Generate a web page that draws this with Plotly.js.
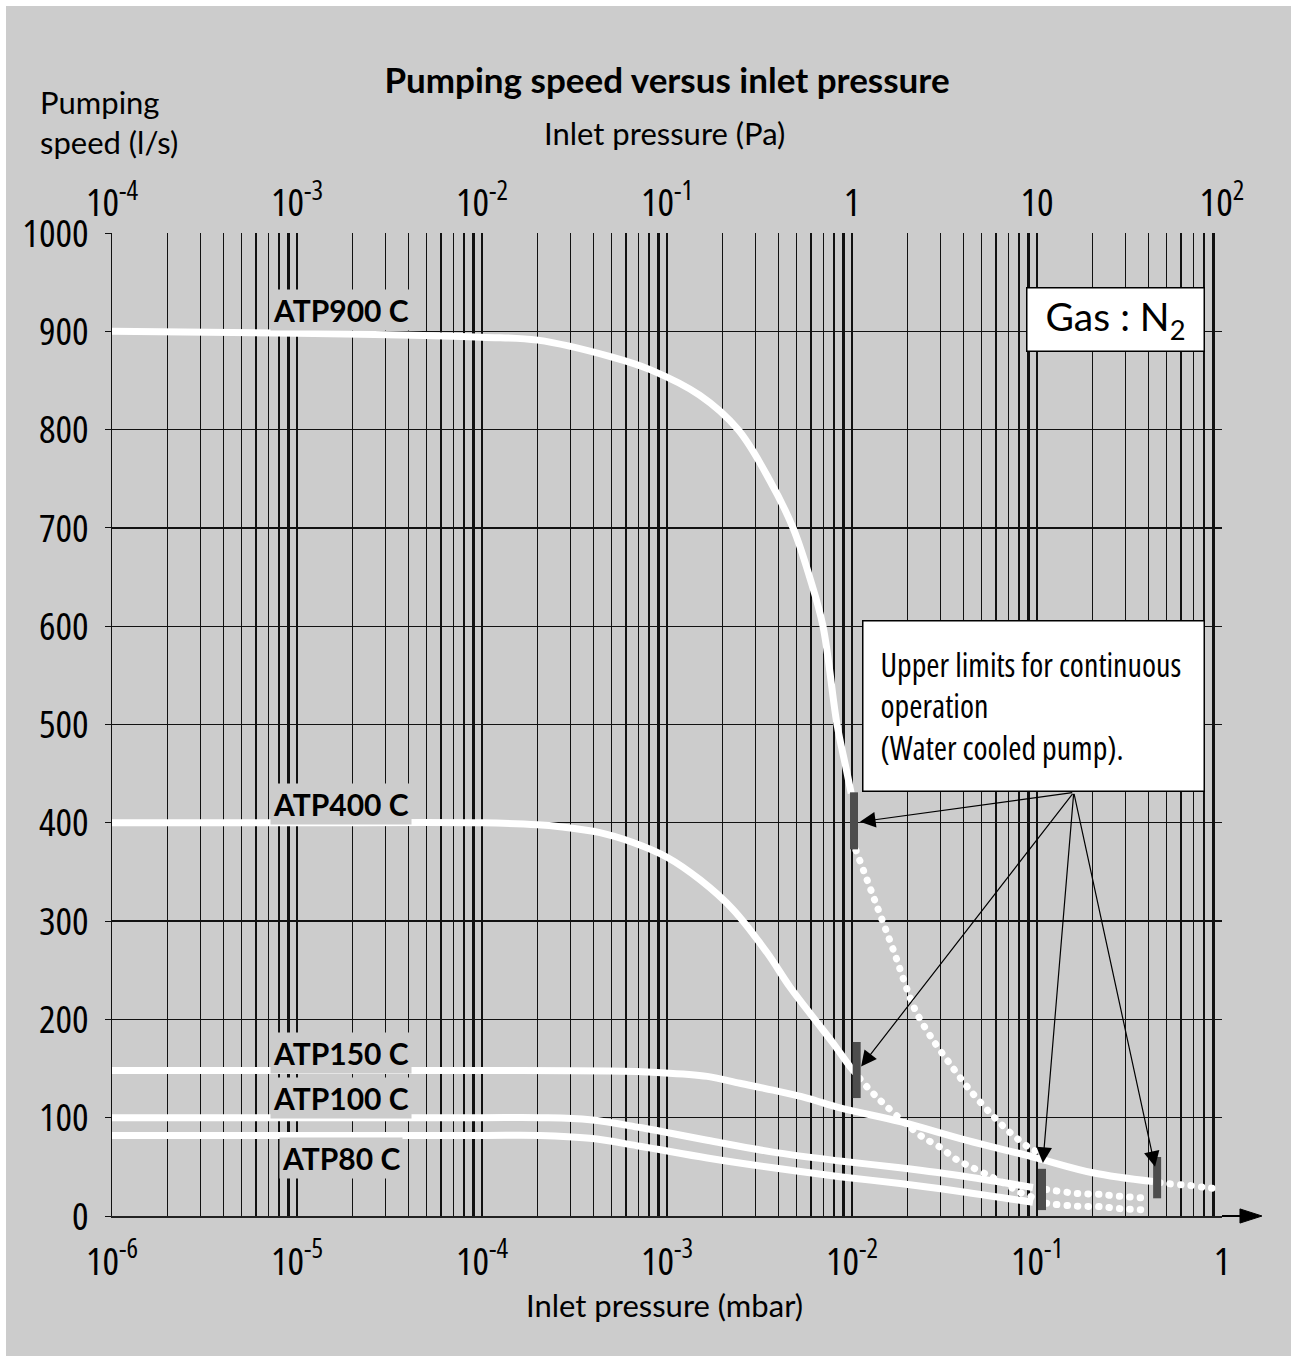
<!DOCTYPE html>
<html><head><meta charset="utf-8">
<script src="https://cdn.plot.ly/plotly-3.0.1.min.js"></script>
<style>html,body{margin:0;padding:0;background:#fff;}
#chart{position:absolute;left:6px;top:6px;width:1285px;height:1350px;}
.xtick text, .x2tick text, .ytick text { font-stretch: 75%; }
.annotation[data-index="9"] text { font-stretch: 75%; }
</style>
</head><body><div id="chart"></div>
<script>
// ---------- data (pressure in mbar, pumping speed in l/s) ----------
const atp900P = [1e-6, 1e-5, 1e-4, 2e-4, 5e-4, 8.1e-4, 1.5e-3, 2.42e-3, 3.6e-3, 4.8e-3, 5.9e-3, 6.97e-3, 8.3e-3, 9.3e-3, 9.9e-3];
const atp900S = [900, 898, 894, 891, 874, 861, 835, 800, 748, 700, 650, 600, 500, 455, 430];
const atp900DotP = [1.05e-2, 1.28e-2, 1.67e-2, 2.19e-2, 2.74e-2, 3.47e-2, 4.34e-2, 5.57e-2, 7.14e-2, 9.16e-2, 1.04e-1];
const atp900DotS = [372, 329, 271, 210, 179, 152, 128, 105, 85, 69, 64];

const atp400P = [1e-6, 1e-5, 1e-4, 2e-4, 2.64e-4, 4.34e-4, 6.55e-4, 1e-3, 1.51e-3, 2.27e-3, 3.47e-3, 4.62e-3, 6.47e-3, 7.89e-3, 9.75e-3, 1.04e-2];
const atp400S = [400, 400, 400, 398, 396, 390, 380, 365, 342, 312, 268, 233, 197, 176, 152, 146];
const atp400DotP = [1.1e-2, 1.21e-2, 1.36e-2, 1.57e-2, 1.77e-2, 1.98e-2, 2.42e-2, 2.99e-2, 3.70e-2, 4.51e-2, 5.37e-2, 6.55e-2, 8.09e-2, 9.51e-2, 1.04e-1];
const atp400DotS = [140, 131, 121, 110, 101, 93, 80, 70, 57, 49, 42, 34, 24, 19, 17];

const atp150P = [1e-6, 1e-5, 1e-4, 5e-4, 8.83e-4, 1.65e-3, 2.48e-3, 3.74e-3, 5.71e-3, 8.61e-3, 1.82e-2, 4.18e-2, 9.51e-2, 0.2, 0.424];
const atp150S = [148, 148, 148, 147.5, 146, 142, 135, 128, 120, 110, 96, 77, 60, 44, 35];
const atp150DotP = [0.46, 0.504, 0.672, 0.861, 1.0];
const atp150DotS = [34, 33, 31, 28.5, 27.5];

const smallP = [1e-6, 1e-5, 1e-4, 2.06e-4, 3.83e-4, 7.14e-4, 1.65e-3, 3.74e-3, 8.61e-3, 1.82e-2, 4.18e-2, 9.51e-2];
const atp100S = [100, 100, 100, 100, 98, 90, 77, 65, 56, 49, 40, 29];
const atp80S  = [82, 82, 82, 82, 79, 71, 59, 49, 40, 33, 24, 14];
const smallDotP = [0.112, 0.122, 0.164, 0.219, 0.281, 0.408];
const atp100DotS = [27, 26, 23, 22, 20, 18];
const atp80DotS  = [13, 12, 10, 9.5, 7.5, 6];

// upper limits for continuous operation (bars)
const limitP    = [0.01025, 0.0106, 0.1064, 0.446];
const limitLow  = [373, 120, 6, 18];
const limitHigh = [431, 177, 48, 60];

// callout arrows
const calloutTailP = 0.158;
const calloutTailS = 431;
const arrowTipP = [0.01104, 0.0112, 0.1076, 0.4345];
const arrowTipS = [401, 152, 54, 50];

// curve labels
const labelText = ['ATP900 C', 'ATP400 C', 'ATP150 C', 'ATP100 C', 'ATP80 C'];
const labelY = [922, 419, 166, 120, 59];
const labelP = 1.73e-5;

// axes
const mbarDecades = [-6, -5, -4, -3, -2, -1];
const mbarTickText = ['10<sup>-6</sup>', '10<sup>-5</sup>', '10<sup>-4</sup>', '10<sup>-3</sup>', '10<sup>-2</sup>', '10<sup>-1</sup>', '1'];
const paTickVals = [1e-4, 1e-3, 1e-2, 1e-1, 1, 10, 100];
const paTickText = ['10<sup>-4</sup>', '10<sup>-3</sup>', '10<sup>-2</sup>', '10<sup>-1</sup>', '1', '10', '10<sup>2</sup>'];
const speedTicks = [0, 100, 200, 300, 400, 500, 600, 700, 800, 900, 1000];

// ---------- build ----------
const REG = "Lato,'Noto Sans',sans-serif";
const COND = "'Open Sans',sans-serif";

const gridVals = [], gridText = [], thickVals = [];
mbarDecades.forEach((e, i) => {
  for (let m = 1; m <= 8; m++) {
    gridVals.push(m * Math.pow(10, e));
    gridText.push(m === 1 ? mbarTickText[i] : '');
  }
  thickVals.push(9 * Math.pow(10, e));
});
gridVals.push(1); gridText.push(mbarTickText[6]);

function solid(p, s) {
  return {x: p, y: s, type: 'scatter', mode: 'lines', hoverinfo: 'skip', showlegend: false,
    line: {color: '#ffffff', width: 7, shape: 'spline', smoothing: 1.0}};
}
function dotted(p, s) {
  return {x: p, y: s, type: 'scatter', mode: 'lines', hoverinfo: 'skip', showlegend: false,
    line: {color: '#ffffff', width: 7, dash: '0.5px,10px', shape: 'spline', smoothing: 0.8}};
}
const barX = [], barY = [];
limitP.forEach((p, i) => { barX.push(p, p, null); barY.push(limitLow[i], limitHigh[i], null); });

const traces = [
  solid(atp900P, atp900S), dotted(atp900DotP, atp900DotS),
  solid(atp400P, atp400S), dotted(atp400DotP, atp400DotS),
  solid(atp150P, atp150S), dotted(atp150DotP, atp150DotS),
  solid(smallP, atp100S), dotted(smallDotP, atp100DotS),
  solid(smallP, atp80S), dotted(smallDotP, atp80DotS),
  {x: barX, y: barY, type: 'scatter', mode: 'lines', hoverinfo: 'skip', showlegend: false,
    line: {color: '#4d4d4d', width: 8}},
  {x: [paTickVals[0], paTickVals[paTickVals.length - 1]], y: [null, null], xaxis: 'x2', type: 'scatter',
    mode: 'lines', showlegend: false, hoverinfo: 'skip'}
];

const annotations = [];
labelText.forEach((t, i) => annotations.push({
  text: '<b>' + t + '</b>', x: Math.log10(labelP), y: labelY[i], xref: 'x', yref: 'y',
  showarrow: false, bgcolor: '#cccccc', borderpad: 2,
  font: {family: REG, size: 30, color: '#000'}
}));
arrowTipP.forEach((p, i) => annotations.push({
  text: '', x: Math.log10(p), y: arrowTipS[i], xref: 'x', yref: 'y',
  ax: Math.log10(calloutTailP), ay: calloutTailS, axref: 'x', ayref: 'y',
  showarrow: true, arrowhead: 2, arrowsize: 2.6, arrowwidth: 1.2, arrowcolor: '#000'
}));
annotations.push({
  text: 'Upper limits for continuous<br>operation<br>(Water cooled pump).',
  xref: 'paper', yref: 'paper', x: 0.8306, y: 0.5193, xanchor: 'center', yanchor: 'middle',
  width: 306, height: 135, align: 'left', valign: 'middle', borderpad: 17,
  bgcolor: '#ffffff', bordercolor: '#000', borderwidth: 1.5, showarrow: false,
  font: {family: COND, size: 32, color: '#000'}
});
annotations.push({
  text: 'Gas : N<sub>2</sub>', xref: 'paper', yref: 'paper', x: 0.904, y: 0.9115,
  xanchor: 'center', yanchor: 'middle', width: 168, height: 54, borderpad: 4,
  bgcolor: '#ffffff', bordercolor: '#000', borderwidth: 1.5, showarrow: false,
  font: {family: REG, size: 39, color: '#000'}
});
annotations.push({
  text: 'Pumping<br>speed (l/s)', xref: 'paper', yref: 'paper', x: -0.0667, y: 1.1545,
  xanchor: 'left', yanchor: 'top', align: 'left', showarrow: false,
  font: {family: REG, size: 31, color: '#000'}
});
annotations.push({
  text: 'Inlet pressure (Pa)', xref: 'paper', yref: 'paper', x: 0.498, y: 1.1017,
  xanchor: 'center', yanchor: 'middle', showarrow: false,
  font: {family: REG, size: 31, color: '#000'}
});
annotations.push({
  text: 'Inlet pressure (mbar)', xref: 'paper', yref: 'paper', x: 0.498, y: -0.0905,
  xanchor: 'center', yanchor: 'middle', showarrow: false,
  font: {family: REG, size: 31, color: '#000'}
});

const shapes = [
  {type: 'line', xref: 'paper', yref: 'paper', x0: 1, x1: 1.0165, y0: 0, y1: 0, line: {color: '#000', width: 2}},
  {type: 'path', xref: 'paper', yref: 'paper', path: 'M1.0360,0 L1.0162,0.0072 L1.0162,-0.0072 Z',
    fillcolor: '#000', line: {color: '#000', width: 1}}
];

const tickFont = {family: COND, size: 39, color: '#000'};
const layout = {
  width: 1285, height: 1350,
  margin: {l: 106, r: 69, t: 227, b: 140},
  paper_bgcolor: '#cccccc', plot_bgcolor: '#cccccc',
  title: {text: '<b>Pumping speed versus inlet pressure</b>', font: {family: REG, size: 35, color: '#000', weight: 900},
    x: 0.5, xref: 'paper', xanchor: 'center', y: 0.945, yref: 'container', yanchor: 'middle'},
  xaxis: {type: 'log', range: [-6, 0], tickmode: 'array', tickvals: gridVals, ticktext: gridText,
    showgrid: true, gridcolor: '#111', gridwidth: 1.3, ticks: '', showline: true, linecolor: '#222', linewidth: 2,
    zeroline: false, tickfont: tickFont, ticklabelstandoff: 10, fixedrange: true,
    minor: {tickmode: 'array', tickvals: thickVals, showgrid: true, gridcolor: '#111', gridwidth: 2.5, ticks: ''}},
  xaxis2: {type: 'log', range: [-4, 2], overlaying: 'x', side: 'top', anchor: 'y', tickmode: 'array',
    tickvals: paTickVals, ticktext: paTickText, showgrid: false, ticks: '', showline: false, zeroline: false,
    tickfont: tickFont, ticklabelstandoff: 8, fixedrange: true},
  yaxis: {range: [0, 1000], tickmode: 'array', tickvals: speedTicks, ticktext: speedTicks.map(String),
    showgrid: true, gridcolor: '#111', gridwidth: 1.3, ticks: 'outside', ticklen: 6, tickcolor: '#111',
    showline: true, linecolor: '#111', linewidth: 1.5, zeroline: false, tickfont: tickFont,
    ticklabelstandoff: 8, fixedrange: true},
  annotations: annotations, shapes: shapes, hovermode: false
};

Plotly.newPlot('chart', traces, layout, {displayModeBar: false, staticPlot: true}).then(gd => {
  gd.querySelectorAll('path.js-line').forEach(p => {
    const d = p.style.strokeDasharray;
    if (d && d !== 'none') p.style.strokeLinecap = 'round';
  });
});
</script></body></html>
